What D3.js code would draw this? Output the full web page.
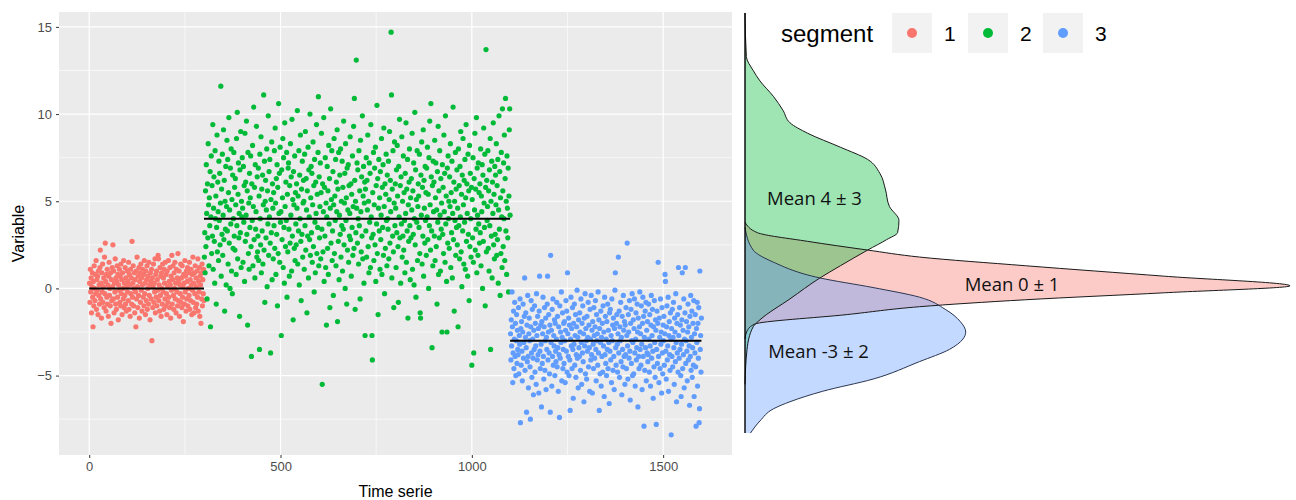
<!DOCTYPE html>
<html>
<head>
<meta charset="utf-8">
<script src="https://cdn.jsdelivr.net/npm/d3@7"></script>
<style>
  body { margin: 0; background: #fff; }
  svg { display: block; font-family: "Liberation Sans", Arial, sans-serif; }
</style>
</head>
<body>
<svg id="chart" width="1296" height="500"></svg>
<script>
// segments of the time serie
const segments = ["1", "2", "3"];
const segColors = ["#F8766D", "#00BA38", "#619CFF"];
const segStart = [1, 301, 1101];
const segMeans = [0, 4, -3];
const meanLabels = ["Mean 0 ± 1", "Mean 4 ± 3", "Mean -3 ± 2"];

const xTicks = [0, 500, 1000, 1500];
const yTicks = [-5, 0, 5, 10, 15];

// values, one per time step
const seg1 = [
  0.3,-0.8,1.1,-0.2,0.6,-1.4,0.1,0.9,-0.5,-2.2,0.4,-1.0,1.3,0.0,-0.7,0.8,-0.3,1.6,-1.2,0.5,
  -0.1,0.7,-1.5,1.0,-0.4,0.2,-0.9,1.2,2.2,-0.6,0.3,-1.7,0.9,-0.2,1.4,-0.8,0.1,0.6,-1.1,1.8,
  -0.3,2.6,0.4,-1.3,0.8,-0.5,1.1,-0.9,0.2,-1.6,0.7,1.5,-0.4,0.0,-1.0,0.9,-2.0,0.5,-0.7,1.2,
  0.1,2.5,-0.6,1.0,-1.4,0.3,-0.2,1.7,-0.9,0.6,-1.2,0.4,1.3,-0.5,0.8,-1.8,0.2,-0.1,1.1,-0.8,
  0.7,-1.0,1.4,-0.3,0.5,-1.5,0.9,0.0,-0.6,1.6,-1.1,0.3,-0.4,1.2,-0.9,0.6,-1.3,0.1,1.0,-0.2,
  0.4,-0.7,1.5,-1.2,0.8,0.2,-1.6,1.1,-0.3,0.6,-0.9,2.7,-0.5,0.3,1.3,-1.0,0.0,0.9,-1.4,0.5,
  -0.2,-2.2,1.0,-0.6,1.8,0.1,-1.1,0.7,-0.4,1.2,-1.7,0.4,0.9,-0.8,1.4,-0.1,0.6,-1.3,0.2,1.1,
  -0.5,0.8,-1.0,1.6,-0.3,0.3,-1.5,1.0,-0.7,0.5,1.3,-1.2,0.0,0.7,-0.9,1.5,-0.4,0.2,-1.8,0.9,
  0.4,-0.6,1.1,-3.0,0.6,-1.1,0.1,1.4,-0.8,0.3,-0.2,1.7,-1.4,0.8,-0.5,1.0,-1.0,0.5,-0.1,1.9,
  1.7,-0.7,0.2,-1.3,1.2,-0.4,0.7,-1.6,0.9,0.0,-0.9,1.4,-0.2,0.6,-1.2,1.1,0.3,-0.6,1.5,-1.0,
  0.8,-0.3,-1.5,1.0,0.1,-0.8,1.6,-0.5,0.4,-1.1,1.2,0.2,-1.7,0.7,-0.1,1.9,-0.9,0.5,1.3,-0.4,
  -1.2,0.9,0.0,1.5,-0.6,0.3,-1.4,1.1,-0.2,0.6,-1.0,2.0,-0.7,0.4,1.0,-1.6,0.2,-0.3,1.4,-0.8,
  0.6,-1.1,1.3,-0.5,0.1,-1.9,0.8,0.3,-0.9,1.6,-0.2,0.7,-1.3,1.0,-0.6,0.4,1.2,-1.0,0.0,0.9,
  -0.4,1.5,-1.2,0.5,-0.7,1.1,0.2,-1.5,0.8,-0.1,1.8,-0.8,0.3,-1.4,0.9,-0.3,1.3,-1.1,0.6,0.1,
  -0.9,1.0,-0.5,1.7,-1.3,0.4,-0.2,1.2,-1.6,0.7,0.2,-2.0,0.9,-0.6,1.4,-1.0,0.5,-0.3,1.1,-0.7
];
const seg2 = [
  1.8,3.2,0.9,5.6,2.4,7.1,4.3,-0.6,6.0,2.9,8.3,4.8,1.3,5.2,3.6,6.7,-2.2,4.1,7.6,2.0,
  5.9,3.0,9.4,1.1,4.6,6.4,2.7,0.3,7.9,4.0,5.3,-0.9,3.5,8.8,2.1,6.1,4.4,1.6,7.3,3.9,
  6.6,2.5,4.9,11.6,0.7,5.7,3.1,7.7,1.9,4.2,9.1,2.8,6.2,-1.3,5.0,3.4,7.0,0.2,4.7,8.5,
  3.3,7.4,1.4,5.5,9.8,2.6,4.5,0.0,6.9,3.7,8.0,1.0,5.1,-0.3,6.5,2.3,4.0,7.8,3.0,5.8,
  2.2,6.3,4.8,0.8,8.6,3.6,10.1,1.7,5.4,7.2,2.9,4.3,-1.6,6.8,3.2,9.0,1.2,5.0,4.1,7.5,
  4.6,1.5,7.0,3.8,5.9,0.4,8.9,2.7,6.1,4.2,9.6,3.1,5.6,-2.1,7.8,2.0,4.9,1.1,6.6,3.5,
  5.2,7.6,2.4,-3.9,6.0,3.9,8.2,1.3,4.7,10.4,2.8,5.8,0.6,7.1,3.4,4.4,9.3,1.8,6.4,2.1,
  3.0,6.9,1.6,5.3,-3.5,7.7,4.0,2.5,8.7,0.9,5.7,3.3,6.5,1.4,4.8,11.1,2.2,7.3,-0.8,5.0,
  6.2,2.9,4.5,8.0,0.1,5.6,3.7,9.9,1.9,6.7,4.1,7.4,2.6,-3.7,5.1,3.2,8.4,0.5,6.0,4.6,
  1.7,5.5,3.6,7.9,2.3,9.2,4.9,0.8,6.3,3.1,7.1,-1.0,5.8,2.0,10.6,4.3,6.6,1.5,8.1,3.8,
  4.4,-2.7,6.8,2.8,5.2,8.6,1.2,7.5,3.5,0.3,9.5,4.7,2.4,6.1,3.9,7.8,-0.5,5.4,2.1,6.9,
  7.2,3.4,0.7,5.9,2.6,8.3,4.2,6.4,1.0,9.7,3.0,5.1,-1.8,6.7,4.8,2.3,7.6,1.6,5.5,3.7,
  2.5,6.0,4.6,10.2,1.4,5.3,3.3,7.9,0.2,6.5,4.0,8.8,2.7,-0.7,5.7,3.1,7.3,1.8,4.9,6.2,
  5.0,1.1,7.7,3.6,9.0,2.2,6.3,4.5,-1.4,5.6,3.0,8.1,0.6,6.8,4.1,2.8,10.0,1.9,5.2,7.0,
  3.2,6.6,1.5,4.8,8.4,2.4,5.9,-0.2,7.4,3.8,0.9,6.1,4.3,9.4,2.0,5.4,3.5,7.8,11.0,1.3,
  6.4,2.9,4.7,7.2,1.7,5.5,8.9,3.4,-5.5,6.0,2.1,4.4,9.8,0.4,5.8,3.0,7.5,1.2,4.9,-2.1,
  4.1,7.0,2.3,5.6,0.8,8.2,3.7,6.3,-1.1,4.6,10.3,2.6,5.1,7.9,1.6,3.3,6.7,-0.4,4.8,8.6,
  2.0,5.3,3.9,7.4,1.3,6.1,4.4,9.1,-1.9,5.7,2.7,7.8,0.5,4.2,6.5,3.1,8.0,1.8,5.0,3.6,
  7.3,1.0,5.8,3.4,9.6,2.5,4.9,6.6,0.0,8.3,3.9,5.2,-0.9,6.9,2.2,4.5,7.1,1.5,5.9,3.0,
  4.3,8.7,2.8,6.0,0.7,5.4,3.5,7.6,1.9,4.7,9.3,2.3,10.9,6.2,-1.2,5.0,3.2,13.1,4.6,7.2,
  2.6,6.8,4.0,1.4,7.9,3.6,5.6,-0.6,8.5,4.4,2.1,6.4,3.0,9.9,1.7,5.3,7.0,0.3,4.9,6.1,
  -2.7,5.7,3.3,7.5,1.8,6.2,4.5,8.8,2.4,5.0,0.9,7.2,3.8,6.6,1.2,9.4,4.1,2.9,-2.7,-4.1,
  5.5,3.1,7.8,1.6,4.8,6.9,2.5,8.1,0.4,5.9,3.7,10.5,2.0,6.3,-1.5,4.6,7.4,3.3,5.2,1.1,
  6.7,2.8,4.2,8.6,0.8,5.8,3.5,7.1,1.9,9.2,4.7,-0.3,6.0,2.3,5.4,7.7,3.9,1.3,6.5,4.0,
  3.4,7.3,1.7,5.1,9.0,2.6,6.2,4.4,14.7,11.1,0.6,5.7,3.0,7.9,2.1,-1.1,4.9,8.4,3.6,6.0,
  4.6,1.2,6.8,3.2,8.2,5.3,2.4,-0.8,7.0,4.1,9.7,2.9,5.9,0.3,6.4,3.7,8.7,1.8,5.0,3.0,
  7.6,2.2,5.5,3.9,0.9,6.6,4.3,9.5,1.5,5.7,3.3,7.4,-1.7,4.8,2.7,6.1,8.0,3.6,0.5,5.2,
  2.9,6.3,4.5,8.9,1.1,5.6,3.1,7.2,0.2,4.0,10.1,2.5,6.8,-0.5,5.1,3.8,7.9,1.6,4.7,6.0,
  5.3,3.5,7.7,2.0,-1.4,-1.7,6.5,4.2,8.4,1.4,5.8,3.0,9.1,0.7,6.2,4.6,2.6,7.0,3.9,5.5,
  1.9,6.9,4.1,8.1,2.8,5.4,0.0,7.5,3.6,9.6,4.8,2.2,10.6,6.4,3.3,-3.4,5.9,1.3,7.3,4.4,
  6.1,3.0,8.5,1.6,5.2,7.2,2.4,4.5,-0.9,6.7,3.8,9.3,0.8,5.6,2.9,7.9,4.2,1.0,6.3,3.4,
  4.9,-2.5,7.1,3.1,5.8,2.0,8.8,4.4,6.6,1.5,9.9,3.7,5.3,0.4,-2.5,6.9,2.6,7.6,4.0,5.0,
  2.3,6.4,4.7,8.3,1.2,5.5,3.2,7.3,0.6,4.3,10.4,2.8,6.1,-1.3,5.0,3.9,7.8,1.9,5.7,3.5,
  6.8,2.5,4.6,-2.2,8.0,3.6,5.9,1.7,7.0,4.1,9.0,2.1,5.4,0.1,6.5,3.3,8.6,4.8,1.4,6.2,
  3.8,7.4,1.1,5.2,9.4,2.7,6.0,4.3,0.7,7.7,3.1,5.6,-0.7,8.2,2.4,6.6,4.0,1.8,5.8,-4.4,
  5.1,2.9,7.5,1.5,-3.7,6.3,4.5,8.9,2.2,5.7,3.4,9.8,0.9,6.9,4.2,1.9,7.2,3.7,5.5,2.6,
  6.0,3.2,8.0,1.3,5.3,4.4,7.1,0.0,6.5,2.7,9.2,4.9,3.5,7.7,-1.0,5.8,13.7,2.1,6.2,3.9,
  4.7,7.9,2.3,5.6,1.0,6.8,3.6,8.6,-3.5,5.0,3.0,7.3,0.6,6.1,4.3,9.5,2.5,5.4,1.7,7.0,
  3.1,6.5,4.8,8.3,1.9,5.9,2.8,7.4,0.3,4.5,9.9,3.4,6.7,-0.4,5.2,2.0,7.8,4.1,1.2,10.3,
  5.6,2.4,7.2,4.0,8.8,1.6,6.3,10.9,3.3,5.0,0.8,7.6,4.6,2.9,6.9,-0.2,5.3,9.1,10.3,4.2
];
const seg3 = [
  -2.6,-4.1,-1.8,-3.3,-0.2,-2.2,-5.4,-3.7,-1.3,-4.6,-2.9,-0.8,-3.9,-2.0,-5.0,-3.0,-1.5,-4.3,-2.4,-3.5,
  -3.8,-1.1,-4.9,-2.7,-3.2,-0.6,-7.7,-2.3,-4.4,-1.9,-3.6,-5.3,-2.5,-0.9,-4.0,-3.1,-1.6,0.6,-4.7,-2.8,
  -1.4,-3.4,-7.1,-2.1,-4.2,-0.4,-3.9,-5.7,-2.6,-1.7,-3.0,-4.5,-7.5,-2.2,-0.7,-3.7,-5.1,-1.2,-2.9,-4.0,
  -6.1,-2.4,-3.5,-1.0,-4.8,-2.0,-3.3,-5.5,-0.3,-2.7,-4.1,-1.6,-3.8,-2.3,-6.0,-1.3,0.7,-3.6,-4.6,-2.1,
  -3.2,-6.8,-1.9,-4.3,-2.6,-0.5,-3.9,-5.2,-2.2,-1.1,-4.7,-3.0,-1.7,-5.8,-2.8,-3.5,-0.9,0.7,-4.1,-2.5,
  -1.5,-3.7,-4.9,-2.1,-7.1,1.9,-3.1,-2.4,-5.6,-1.2,-3.9,-0.6,-4.4,-2.7,-3.3,-1.8,-5.0,-2.0,-3.6,-4.2,
  -2.9,-0.8,-4.5,-1.6,-3.4,-5.9,-2.2,-3.8,-7.4,-1.0,-4.0,-2.5,-3.1,-0.2,-5.3,-2.8,-1.4,-4.6,-3.5,-2.0,
  -4.3,-1.9,-3.0,-5.4,-2.4,-0.7,-3.6,-1.3,-4.8,0.9,-2.6,-3.9,-1.7,-5.0,-2.1,-4.1,-7.0,-2.9,-0.5,-3.3,
  -2.3,-4.6,-1.1,-3.5,-6.3,-2.0,-3.2,-0.9,-4.4,-2.7,-1.5,-5.1,-3.8,-2.2,-0.1,-4.0,-2.8,-5.7,-1.8,-3.4,
  -3.9,-1.4,-2.5,-4.7,-0.6,-3.1,-5.5,-2.0,-3.7,-1.0,-4.2,-2.6,-6.5,-1.7,-3.3,-0.3,-4.9,-2.3,-3.0,-5.2,
  -1.6,-3.6,-2.8,-0.8,-4.5,-2.1,-3.4,-5.9,-1.2,-2.9,-4.1,-0.4,-3.8,-2.4,-6.0,-1.9,-3.2,-4.6,-1.1,-2.7,
  -4.0,-2.2,-0.7,-3.5,-5.3,-1.5,-3.0,-2.6,-4.4,-0.2,-3.7,-1.8,-7.0,-2.3,-4.9,-3.1,-1.3,-5.6,-2.8,-3.9,
  -2.0,-4.8,-1.0,-3.3,-2.5,-6.2,-0.5,-3.8,-1.6,-4.3,-2.9,-5.0,-1.9,-3.5,-0.9,-4.6,-2.4,-3.1,-6.6,-1.4,
  -3.6,-1.2,-4.1,-2.7,-5.4,-0.6,-3.0,-2.1,-4.7,-1.7,-3.9,-5.8,-2.3,-0.1,0.9,-3.4,-4.4,-2.0,-1.5,-3.2,
  -4.8,-2.6,1.8,-3.7,-1.3,-5.1,-2.2,-3.0,-0.8,-4.2,-2.8,-6.1,-1.6,-3.5,-4.5,-0.4,-2.4,-3.9,-1.9,-5.5,
  -2.1,-3.8,-1.1,-4.6,-2.7,2.6,-3.3,-5.2,-1.5,-2.5,-4.0,-0.7,-3.6,-6.4,-2.0,-1.2,-4.3,-3.0,-0.3,-5.0,
  -3.1,-1.8,-4.9,-2.3,-0.6,-3.7,-5.6,-2.9,-1.4,-4.1,-3.4,-0.9,-2.5,-6.8,-1.7,-3.9,-4.6,-2.2,-0.2,-3.5,
  -2.6,-4.4,-1.0,-3.2,-5.8,-2.0,-0.5,-3.9,-1.6,-7.9,-2.8,-4.7,-1.3,-3.4,-0.8,-5.3,-2.4,-3.7,-1.9,-4.2,
  -3.8,-0.9,-2.9,-4.8,-1.5,-3.3,-5.6,-2.1,-0.4,-4.0,-2.7,-1.2,-3.6,-6.3,-2.2,-4.5,-0.7,-3.1,-5.1,-1.8,
  -2.4,-7.8,-3.5,-1.3,-4.3,-2.0,1.5,-3.9,-5.4,-1.7,-2.8,-4.6,-0.6,-3.2,-2.5,-6.0,-1.1,-3.7,-4.9,-2.1,
  -3.0,-1.6,-4.4,-2.6,0.8,0.4,-3.6,-5.2,-2.2,-1.0,-4.1,-3.3,-0.5,-5.9,-2.7,-1.9,-3.8,-4.7,-1.4,-2.9,
  -8.4,-2.3,-3.9,-1.2,-4.5,-2.8,-0.8,-3.4,-5.5,-1.7,-2.5,-4.2,-0.3,-3.1,-6.5,-2.0,-3.7,-1.5,-4.8,1.2,
  -2.7,-4.0,-1.1,-3.5,-2.1,-5.0,-6.2,-3.2,-1.8,0.9,-4.6,-2.4,-3.8,-0.6,-5.7,-2.9,-1.4,1.2,-4.3,-3.0,
  -1.9,-3.6,-5.3,-2.5,-0.9,-4.1,-2.2,-3.3,-6.7,-1.6,-3.9,-0.4,-4.7,-2.8,-1.3,-5.1,-3.4,-2.0,-4.4,-0.7,
  -6.2,-2.6,-3.7,-1.5,-4.5,-7.9,-2.3,-3.1,-0.8,-5.6,-2.0,-4.0,-1.1,-7.7,-6.9,1.0,-3.5,-2.7,-4.8,-1.7
];

// density profiles: [value, density]
const dens1 = [[3.8,0],[3.2,0.009],[2.7,0.046],[2.2,0.090],[1.8,0.128],[1.3,0.206],[0.7,0.308],[0.15,0.40],
  [-0.25,0.308],[-0.65,0.206],[-1.05,0.128],[-1.5,0.075],[-2.05,0.007],[-2.45,0.0015],[-2.9,0]];
const dens2 = [[15.8,0],[13.3,0.001],[12.5,0.006],[11.9,0.011],[11.0,0.021],[10.2,0.028],[9.5,0.033],
  [8.9,0.046],[8.1,0.070],[7.4,0.090],[6.6,0.099],[5.7,0.103],[4.7,0.106],[3.9,0.113],[3.2,0.112],
  [2.8,0.104],[2.2,0.090],[1.3,0.070],[0.6,0.055],[-0.6,0.033],[-1.8,0.011],[-2.2,0.006],[-3.5,0.0015],[-5.5,0]];
const dens3 = [[3.5,0],[2.2,0.006],[1.5,0.021],[0.6,0.055],[0.05,0.094],[-0.5,0.128],[-1.2,0.147],
  [-1.9,0.158],[-2.5,0.162],[-2.9,0.160],[-3.5,0.150],[-4.2,0.128],[-5.2,0.094],[-5.9,0.057],
  [-6.5,0.033],[-6.9,0.021],[-7.6,0.011],[-8.3,0.004]];

const seriesValues = [seg1, seg2, seg3];
const densities = [dens1, dens2, dens3];

const svg = d3.select("svg#chart");

// ---- left panel: scatter ----
const panel = {left: 59, right: 732, top: 12, bottom: 455};

const points = [];
seriesValues.forEach((vals, s) => {
    vals.forEach((v, i) => points.push({t: segStart[s] + i, v: v, seg: s}));
});

// ggplot-like 5% expansion
const tExt = d3.extent(points, d => d.t);
const vExt = d3.extent(points, d => d.v);
const tPad = (tExt[1] - tExt[0]) * 0.05;
const vPad = (vExt[1] - vExt[0]) * 0.05;

const x = d3.scaleLinear()
    .domain([tExt[0] - tPad, tExt[1] + tPad])
    .range([panel.left, panel.right]);
const y = d3.scaleLinear()
    .domain([vExt[0] - vPad, vExt[1] + vPad])
    .range([panel.bottom, panel.top]);

svg.append("rect")
    .attr("x", panel.left).attr("y", panel.top)
    .attr("width", panel.right - panel.left)
    .attr("height", panel.bottom - panel.top)
    .attr("fill", "#EBEBEB");

// minor grid
const xMinor = [250, 750, 1250];
const yMinor = [-7.5, -2.5, 2.5, 7.5, 12.5];
const grid = svg.append("g");
grid.selectAll(".xmin").data(xMinor).join("line")
    .attr("x1", d => x(d)).attr("x2", d => x(d))
    .attr("y1", panel.top).attr("y2", panel.bottom)
    .attr("stroke", "#fff").attr("stroke-width", 0.6);
grid.selectAll(".ymin").data(yMinor).join("line")
    .attr("y1", d => y(d)).attr("y2", d => y(d))
    .attr("x1", panel.left).attr("x2", panel.right)
    .attr("stroke", "#fff").attr("stroke-width", 0.6);
// major grid
grid.selectAll(".xmaj").data(xTicks).join("line")
    .attr("x1", d => x(d)).attr("x2", d => x(d))
    .attr("y1", panel.top).attr("y2", panel.bottom)
    .attr("stroke", "#fff").attr("stroke-width", 1.2);
grid.selectAll(".ymaj").data(yTicks).join("line")
    .attr("y1", d => y(d)).attr("y2", d => y(d))
    .attr("x1", panel.left).attr("x2", panel.right)
    .attr("stroke", "#fff").attr("stroke-width", 1.2);

// axes
const xAxis = svg.append("g")
    .attr("transform", `translate(0,${panel.bottom})`)
    .call(d3.axisBottom(x).tickValues(xTicks).tickFormat(d3.format("d")).tickSize(3).tickPadding(4));
const yAxis = svg.append("g")
    .attr("transform", `translate(${panel.left},0)`)
    .call(d3.axisLeft(y).tickValues(yTicks).tickFormat(d3.format("d")).tickSize(3).tickPadding(4));
[xAxis, yAxis].forEach(ax => {
    ax.select(".domain").remove();
    ax.selectAll(".tick line").attr("stroke", "#333");
    ax.selectAll(".tick text")
        .attr("fill", "#4D4D4D")
        .style("font-size", "13px")
        .style("font-family", "'Liberation Sans', Arial, sans-serif");
});

svg.append("text")
    .attr("x", (panel.left + panel.right) / 2)
    .attr("y", 497)
    .attr("text-anchor", "middle")
    .style("font-size", "16px")
    .text("Time serie");
svg.append("text")
    .attr("transform", `translate(24,${(panel.top + panel.bottom) / 2}) rotate(-90)`)
    .attr("text-anchor", "middle")
    .style("font-size", "16px")
    .text("Variable");

// points
svg.append("g")
    .selectAll("circle")
    .data(points)
    .join("circle")
        .attr("cx", d => x(d.t))
        .attr("cy", d => y(d.v))
        .attr("r", 2.6)
        .attr("fill", d => segColors[d.seg]);

// segment means
svg.append("g")
    .selectAll("line")
    .data(segMeans)
    .join("line")
        .attr("x1", (d, i) => x(segStart[i] - 1))
        .attr("x2", (d, i) => x(segStart[i] + seriesValues[i].length - 1))
        .attr("y1", d => y(d))
        .attr("y2", d => y(d))
        .attr("stroke", "#000")
        .attr("stroke-width", 2);

// ---- right panel: densities ----
const xd = d3.scaleLinear().domain([0, 0.4]).range([745, 1290]);

const area = d3.area()
    .curve(d3.curveMonotoneY)
    .y(d => y(d[0]))
    .x0(xd(0))
    .x1(d => xd(d[1]));
const outline = d3.line()
    .curve(d3.curveMonotoneY)
    .y(d => y(d[0]))
    .x(d => xd(d[1]));

const dg = svg.append("g");
densities.forEach((dens, s) => {
    dg.append("path")
        .attr("d", area(dens))
        .attr("fill", segColors[s])
        .attr("fill-opacity", 0.38);
});
densities.forEach((dens, s) => {
    dg.append("path")
        .attr("d", outline(dens))
        .attr("fill", "none")
        .attr("stroke", s === 2 ? "#2a3550" : "#1a1a1a")
        .attr("stroke-width", 1);
});

const allDens = densities.flat();
dg.append("line")
    .attr("x1", xd(0)).attr("x2", xd(0))
    .attr("y1", y(d3.max(allDens, d => d[0])))
    .attr("y2", y(d3.min(allDens, d => d[0])))
    .attr("stroke", "#000")
    .attr("stroke-width", 1.4);

// mean labels: [density, value] anchor for each segment
const labelAt = [[0.196, 0.3], [0.051, 5.2], [0.054, -3.55]];
dg.selectAll("text")
    .data(meanLabels)
    .join("text")
        .attr("x", (d, i) => xd(labelAt[i][0]))
        .attr("y", (d, i) => y(labelAt[i][1]))
        .attr("text-anchor", "middle")
        .attr("dominant-baseline", "central")
        .style("font-family", "'Open Sans', sans-serif")
        .style("font-size", "18.5px")
        .attr("fill", "#111")
        .text(d => d);

// legend
const legend = svg.append("g");
legend.append("text")
    .attr("x", 781).attr("y", 33)
    .attr("dominant-baseline", "central")
    .style("font-size", "24px")
    .text("segment");
const keyX = [892, 968, 1043];
const lg = legend.selectAll("g.key")
    .data(segments)
    .join("g")
        .attr("transform", (d, i) => `translate(${keyX[i]},13)`);
lg.append("rect")
    .attr("width", 40).attr("height", 40)
    .attr("fill", "#F2F2F2");
lg.append("circle")
    .attr("cx", 20).attr("cy", 20).attr("r", 5)
    .attr("fill", (d, i) => segColors[i]);
lg.append("text")
    .attr("x", 52).attr("y", 20)
    .attr("dominant-baseline", "central")
    .style("font-size", "21px")
    .text(d => d);
</script>
</body>
</html>
